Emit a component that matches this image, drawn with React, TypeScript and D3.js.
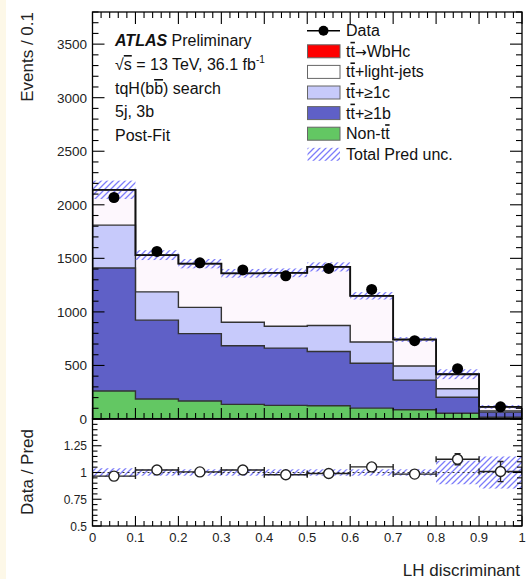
import React from "react";
import * as d3 from "d3";

const binLow = [0, 0.1, 0.2, 0.3, 0.4, 0.5, 0.6, 0.7, 0.8, 0.9];
const binWidth = 0.1;
const nonTT = [262, 187, 168, 137, 127, 124, 102, 87, 53, 17];
const ttB = [1148, 736, 629, 547, 535, 506, 419, 276, 150, 47];
const ttC = [400, 264, 245, 220, 204, 243, 198, 132, 80, 12];
const ttLight = [330, 343, 408, 456, 499, 547, 431, 247, 135, 37];
const ttWbHc = [0, 0, 0, 0, 0, 0, 0, 0, 0, 0];
const dataVals = [2068, 1565, 1458, 1392, 1337, 1406, 1210, 731, 470, 114];
const relUnc = [0.04, 0.03, 0.03, 0.03, 0.03, 0.03, 0.03, 0.03, 0.11, 0.15];

const xTickLabels = ["0", "0.1", "0.2", "0.3", "0.4", "0.5", "0.6", "0.7", "0.8", "0.9", "1"];
const yTickVals = [0, 500, 1000, 1500, 2000, 2500, 3000, 3500];
const rTickVals = [0.5, 0.75, 1, 1.25];
const rTickLabels = ["0.5", "0.75", "1", "1.25"];

const FONT = "'Liberation Sans', Arial, Helvetica, sans-serif";
const W = 527, H = 579;
const L = 92.5, R = 522, T = 12, MB = 419, RB = 526;

const x = d3.scaleLinear().domain([0, 1]).range([L, R]);
const y = d3.scaleLinear().domain([0, 3800]).range([MB, T]);
const r = d3.scaleLinear().domain([0.5, 1.5]).range([RB, MB]);

const components = [
  { name: "nonTT", vals: nonTT, fill: "#63c763" },
  { name: "ttB", vals: ttB, fill: "#5f60c7" },
  { name: "ttC", vals: ttC, fill: "#c7cafb" },
  { name: "ttLight", vals: ttLight, fill: "#fdf7fd" },
  { name: "ttWbHc", vals: ttWbHc, fill: "#ff0000" },
];

const cumulative: number[][] = [];
components.forEach((c, ci) => {
  cumulative.push(c.vals.map((v, i) => v + (ci > 0 ? cumulative[ci - 1][i] : 0)));
});
const total = cumulative[cumulative.length - 1];

function stepArea(vals: number[]) {
  let p = `M${x(0)},${y(0)}`;
  vals.forEach((v, i) => {
    p += `L${x(binLow[i])},${y(v)}L${x(binLow[i] + binWidth)},${y(v)}`;
  });
  p += `L${x(1)},${y(0)}Z`;
  return p;
}

const OL = { textDecoration: "overline" } as React.CSSProperties;
const TT = () => (<><tspan>t</tspan><tspan style={OL}>t</tspan></>);

export default function App() {
  const yMinor = d3.range(0, 3801, 100);
  const xMinor = d3.range(0, 1.0001, 0.02);
  const xMajor = d3.range(0, 1.0001, 0.1);
  const rMinor = d3.range(0.5, 1.5001, 0.05);
  const legendRows = [30.7, 51.3, 71.9, 92.5, 113.1, 133.7, 154.3];
  const legendEntries = [
    { pre: "", post: "WbHc", arrow: true, fill: "#ff0000" },
    { pre: "", post: "+light-jets", arrow: false, fill: "#ffffff" },
    { pre: "", post: "+\u22651c", arrow: false, fill: "#c7cafb" },
    { pre: "", post: "+\u22651b", arrow: false, fill: "#5f60c7" },
    { pre: "Non-", post: "", arrow: false, fill: "#63c763" },
  ];
  const ratios = dataVals.map((d, i) => d / total[i]);
  return (
    <svg width={W} height={H} style={{ position: "absolute", left: 0, top: 0, background: "#fff" }} fontFamily={FONT}>
      <defs>
        <pattern id="hatch" patternUnits="userSpaceOnUse" width={6} height={6}>
          <path d="M0,6L6,0M-1.5,1.5L1.5,-1.5M4.5,7.5L7.5,4.5" stroke="#7d7dfa" strokeWidth={1.3} />
        </pattern>
        <clipPath id="mainClip"><rect x={L} y={T} width={R - L} height={MB - T} /></clipPath>
        <clipPath id="ratioClip"><rect x={L} y={MB} width={R - L} height={RB - MB} /></clipPath>
      </defs>
      <rect x={0} y={0} width={W} height={H} fill="#ffffff" />
      <rect x={0} y={0} width={6} height={H} fill="#fdf8e8" />

      <g clipPath="url(#mainClip)">
        {components.slice().reverse().map((c, ri) => {
          const ci = components.length - 1 - ri;
          return <path key={c.name} d={stepArea(cumulative[ci])} fill={c.fill} stroke="#333" strokeWidth={1.4} />;
        })}
        {total.map((t, i) => (
          <rect key={i} x={x(binLow[i])} y={y(t * (1 + relUnc[i]))} width={x(binLow[i] + binWidth) - x(binLow[i])}
            height={y(t * (1 - relUnc[i])) - y(t * (1 + relUnc[i]))} fill="url(#hatch)" />
        ))}
        <path d={stepArea(total)} fill="none" stroke="#111" strokeWidth={1.8} />
        {dataVals.map((d, i) => {
          const cx = x(binLow[i] + binWidth / 2);
          const e = Math.sqrt(d);
          return (
            <g key={i}>
              <line x1={cx} x2={cx} y1={y(d - e)} y2={y(d + e)} stroke="#000" strokeWidth={1.5} />
              <circle cx={cx} cy={y(d)} r={5.5} fill="#000" />
            </g>
          );
        })}
      </g>

      <g clipPath="url(#ratioClip)">
        {total.map((t, i) => (
          <rect key={i} x={x(binLow[i])} y={r(1 + relUnc[i])} width={x(binLow[i] + binWidth) - x(binLow[i])}
            height={r(1 - relUnc[i]) - r(1 + relUnc[i])} fill="url(#hatch)" />
        ))}
        <line x1={L} x2={R} y1={r(1)} y2={r(1)} stroke="#333" strokeWidth={1.2} strokeDasharray="2,3" />
        {ratios.map((rv, i) => {
          const x0 = x(binLow[i]), x1 = x(binLow[i] + binWidth), cx = (x0 + x1) / 2;
          const e = Math.sqrt(dataVals[i]) / total[i];
          const cy = r(rv);
          return (
            <g key={i} stroke="#222" strokeWidth={1.4}>
              <line x1={x0} x2={cx - 5} y1={cy} y2={cy} />
              <line x1={cx + 5} x2={x1} y1={cy} y2={cy} />
              <line x1={x0} x2={x0} y1={cy - 3} y2={cy + 3} />
              <line x1={x1} x2={x1} y1={cy - 3} y2={cy + 3} />
              {r(rv + e) < cy - 5 && <line x1={cx} x2={cx} y1={r(rv + e)} y2={cy - 5} />}
              {r(rv - e) > cy + 5 && <line x1={cx} x2={cx} y1={cy + 5} y2={r(rv - e)} />}
              {r(rv + e) < cy - 5 && <line x1={cx - 3} x2={cx + 3} y1={r(rv + e)} y2={r(rv + e)} />}
              {r(rv - e) > cy + 5 && <line x1={cx - 3} x2={cx + 3} y1={r(rv - e)} y2={r(rv - e)} />}
              <circle cx={cx} cy={cy} r={5} fill="#fff" />
            </g>
          );
        })}
      </g>

      <rect x={L} y={T} width={R - L} height={MB - T} fill="none" stroke="#000" strokeWidth={1.3} />
      <rect x={L} y={MB} width={R - L} height={RB - MB} fill="none" stroke="#000" strokeWidth={1.3} />

      <g stroke="#000" strokeWidth={1.1}>
        {yMinor.map((v) => {
          const major = v % 500 === 0;
          const len = major ? 12 : 6;
          return (
            <g key={v}>
              <line x1={L} x2={L + len} y1={y(v)} y2={y(v)} />
              <line x1={R} x2={R - len} y1={y(v)} y2={y(v)} />
            </g>
          );
        })}
        {xMinor.map((v, i) => {
          const major = i % 5 === 0;
          const len = major ? 12 : 6;
          const lenB = major ? 11 : 6;
          return (
            <g key={i}>
              <line x1={x(v)} x2={x(v)} y1={T} y2={T + len} />
              <line x1={x(v)} x2={x(v)} y1={MB} y2={MB - lenB} />
              <line x1={x(v)} x2={x(v)} y1={RB} y2={RB - (major ? 10 : 5)} />
            </g>
          );
        })}
        {rMinor.map((v, i) => {
          const major = i % 5 === 0;
          const len = major ? 9 : 5;
          return (
            <g key={i}>
              <line x1={L} x2={L + len} y1={r(v)} y2={r(v)} />
              <line x1={R} x2={R - len} y1={r(v)} y2={r(v)} />
            </g>
          );
        })}
      </g>

      <g fontSize={13.5} fill="#222" textAnchor="end">
        {yTickVals.map((v) => (
          <text key={v} x={87} y={y(v) + 5}>{v}</text>
        ))}
      </g>
      <g fontSize={12} fill="#222" textAnchor="end">
        {rTickVals.map((v, i) => (
          <text key={v} x={87} y={r(v) + 4.5}>{rTickLabels[i]}</text>
        ))}
      </g>
      <g fontSize={13} fill="#222" textAnchor="middle">
        {xMajor.map((v, i) => (
          <text key={i} x={x(v)} y={542}>{xTickLabels[i]}</text>
        ))}
      </g>

      <text transform={`translate(33,12) rotate(-90)`} textAnchor="end" fontSize={17} fill="#222">Events / 0.1</text>
      <text transform={`translate(33,472) rotate(-90)`} textAnchor="middle" fontSize={17} fill="#222">Data / Pred</text>
      <text x={520} y={576} textAnchor="end" fontSize={17} fill="#222">LH discriminant</text>

      <g fontSize={16} fill="#111">
        <text x={115} y={46}><tspan fontWeight="bold" fontStyle="italic">ATLAS</tspan> Preliminary</text>
        <text x={115} y={70}>{"\u221A"}<tspan style={OL}>s</tspan>{" = 13 TeV, 36.1 fb"}<tspan fontSize={10} dy={-7}>-1</tspan></text>
        <text x={115} y={94}>tqH(b<tspan style={OL}>b</tspan>) search</text>
        <text x={115} y={117}>5j, 3b</text>
        <text x={115} y={141}>Post-Fit</text>
      </g>

      <g fontSize={16} fill="#111">
        <line x1={307} x2={340} y1={legendRows[0]} y2={legendRows[0]} stroke="#000" strokeWidth={1.5} />
        <circle cx={323.5} cy={legendRows[0]} r={5} fill="#000" />
        <text x={346} y={legendRows[0] + 5.5}>Data</text>
        {legendEntries.map((e, i) => (
          <g key={i}>
            <rect x={307.5} y={legendRows[i + 1] - 6.5} width={32.5} height={13} fill={e.fill} stroke="#666" strokeWidth={1} />
            <text x={346} y={legendRows[i + 1] + 5.5}>
              {e.pre}<TT />{e.arrow && <tspan fontFamily="'DejaVu Sans'" fontSize={14}>{"\u2192"}</tspan>}{e.post}
            </text>
          </g>
        ))}
        <rect x={307.5} y={legendRows[6] - 6.5} width={32.5} height={13} fill="url(#hatch)" />
        <text x={346} y={legendRows[6] + 5.5}>Total Pred unc.</text>
      </g>
    </svg>
  );
}
